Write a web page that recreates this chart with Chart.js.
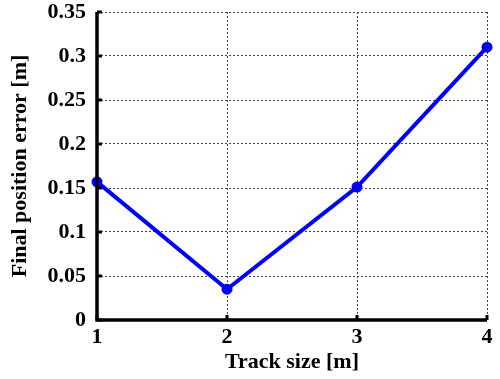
<!DOCTYPE html>
<html>
<head>
<meta charset="utf-8">
<script src="https://cdn.jsdelivr.net/npm/chart.js@4"></script>
<style>
html,body{margin:0;padding:0;background:#fff;}
#wrap{width:500px;height:379px;position:relative;}
</style>
</head>
<body>
<div id="wrap"><canvas id="c"></canvas></div>
<script>
const trackSizes = [1, 2, 3, 4];
const finalErrors = [0.157, 0.035, 0.151, 0.310];
const xTicks = [1, 2, 3, 4];
const yTicks = [0, 0.05, 0.1, 0.15, 0.2, 0.25, 0.3, 0.35];
const xTitle = 'Track size [m]';
const yTitle = 'Final position error [m]';

const FONT = '"Liberation Serif", "Times New Roman", serif';

const tickMarks = {
  id: 'tickMarks',
  afterDatasetsDraw(chart) {
    const {ctx, chartArea, scales} = chart;
    ctx.save();
    ctx.strokeStyle = '#000';
    ctx.lineWidth = 3;
    ctx.beginPath();
    xTicks.forEach(v => {
      const x = scales.x.getPixelForValue(v);
      ctx.moveTo(x, chartArea.bottom);
      ctx.lineTo(x, chartArea.bottom - 5);
    });
    yTicks.forEach(v => {
      const y = scales.y.getPixelForValue(v);
      ctx.moveTo(chartArea.left, y);
      ctx.lineTo(chartArea.left + 5, y);
    });
    ctx.stroke();
    ctx.lineWidth = 3.5;
    ctx.beginPath();
    ctx.moveTo(chartArea.left, chartArea.top);
    ctx.lineTo(chartArea.left, chartArea.bottom);
    ctx.lineTo(chartArea.right, chartArea.bottom);
    ctx.stroke();
    ctx.restore();
  }
};

new Chart(document.getElementById('c'), {
  type: 'line',
  data: {
    datasets: [{
      data: trackSizes.map((x, i) => ({x, y: finalErrors[i]})),
      borderColor: '#0000ff',
      backgroundColor: '#0000ff',
      borderWidth: 4,
      pointRadius: 5.5,
      pointHoverRadius: 5.5,
      pointBorderWidth: 0,
      tension: 0,
      clip: false
    }]
  },
  options: {
    responsive: true,
    maintainAspectRatio: false,
    animation: false,
    events: [],
    layout: {padding: {left: 0, top: 12, right: 13, bottom: 0}},
    plugins: {legend: {display: false}, tooltip: {enabled: false}},
    scales: {
      x: {
        type: 'linear',
        min: 1, max: 4,
        afterBuildTicks: s => { s.ticks = xTicks.map(v => ({value: v})); },
        afterFit: s => { s.height = 59; s.paddingLeft = 0; s.paddingRight = 0; },
        border: {display: false, dash: [2, 2]},
        grid: {color: '#444', lineWidth: 1, drawTicks: false},
        ticks: {color: '#000', padding: 4, font: {family: FONT, size: 22, weight: 'bold'}, maxRotation: 0,
                callback: v => String(v)},
        title: {display: true, text: xTitle, color: '#000', padding: {top: 0, bottom: 3},
                font: {family: FONT, size: 22, weight: 'bold'}}
      },
      y: {
        type: 'linear',
        min: 0, max: 0.35,
        afterBuildTicks: s => { s.ticks = yTicks.map(v => ({value: v})); },
        afterFit: s => { s.width = 97; s.paddingTop = 0; s.paddingBottom = 0; },
        border: {display: false, dash: [2, 2]},
        grid: {color: '#444', lineWidth: 1, drawTicks: false},
        ticks: {color: '#000', padding: 11, font: {family: FONT, size: 22, weight: 'bold'},
                callback: v => String(+v.toFixed(2))},
        title: {display: true, text: yTitle, color: '#000', padding: {top: 7, bottom: 0},
                font: {family: FONT, size: 22, weight: 'bold'}}
      }
    }
  },
  plugins: [tickMarks]
});
</script>
</body>
</html>
